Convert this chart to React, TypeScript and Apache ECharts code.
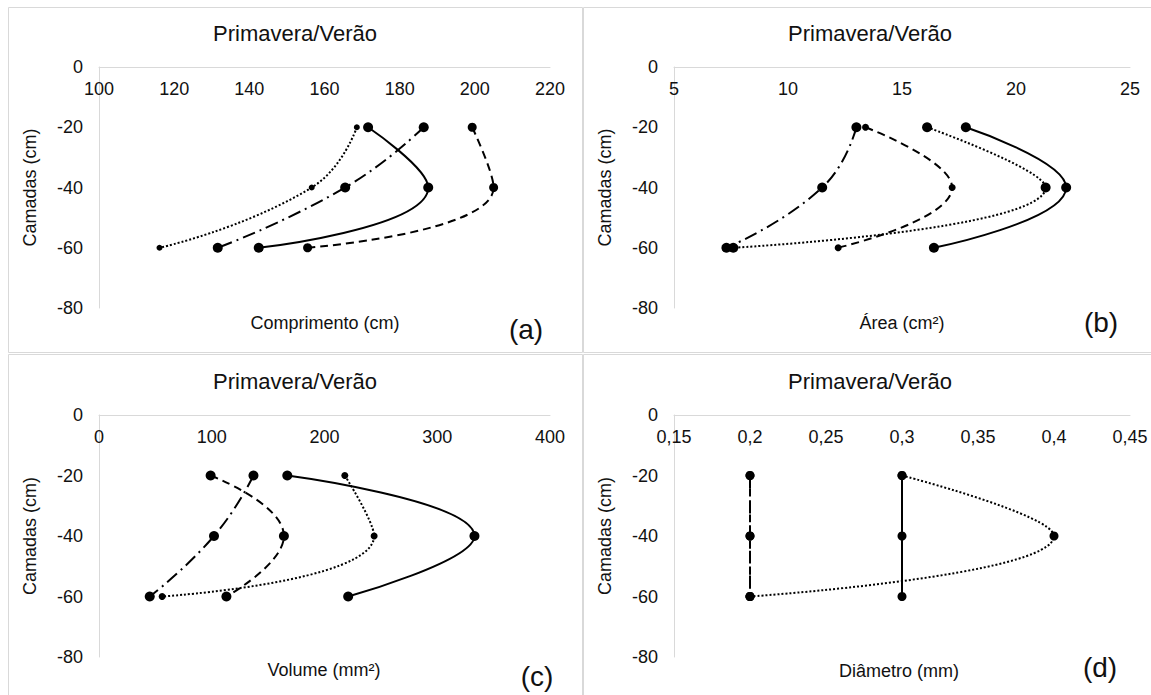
import React, { useEffect, useRef } from "react";
import * as echarts from "echarts";

// Depth layers (cm)
const layers = [-20, -40, -60];
const yTicks = [0, -20, -40, -60, -80];

// Panel (a) Comprimento (cm)
const compSolid = [171.6, 187.6, 142.5];
const compDashed = [199.3, 205.0, 155.5];
const compDashDot = [186.4, 165.5, 131.6];
const compDotted = [168.6, 156.6, 116.1];

// Panel (b) Área (cm²)
const areaSolid = [17.8, 22.2, 16.4];
const areaDashed = [13.4, 17.2, 12.2];
const areaDashDot = [13.0, 11.5, 7.3];
const areaDotted = [16.1, 21.3, 7.6];

// Panel (c) Volume (mm²)
const volSolid = [167, 333, 221];
const volDashed = [99, 164, 113];
const volDashDot = [137, 102, 45];
const volDotted = [218, 244, 56];

// Panel (d) Diâmetro (mm)
const diaSolid = [0.3, 0.3, 0.3];
const diaDashed = [0.2, 0.2, 0.2];
const diaDashDot = [0.2, 0.2, 0.2];
const diaDotted = [0.3, 0.4, 0.2];

const titleText = "Primavera/Verão";
const xNames = ["Comprimento (cm)", "Área (cm²)", "Volume (mm²)", "Diâmetro (mm)"];
const letters = ["(a)", "(b)", "(c)", "(d)"];
const yName = "Camadas (cm)";

const FONT = "'Liberation Sans', Arial, sans-serif";
const GRAY = "#d9d9d9";

const dashSolid: any = "solid";
const dashDashed: any = [8, 5];
const dashDashDot: any = [13, 5, 2, 5];
const dashDotted: any = [2, 2];

export default function App() {
  const ref = useRef<HTMLDivElement>(null);

  useEffect(() => {
    if (!ref.current) return;
    const chart = echarts.init(ref.current, undefined, { renderer: "svg" });

    const grids = [
      { left: 99, top: 67, width: 451, height: 241 },
      { left: 674, top: 67, width: 456, height: 241 },
      { left: 99, top: 415, width: 451, height: 242 },
      { left: 674, top: 415, width: 456, height: 242 },
    ];
    const xRanges = [
      { min: 100, max: 220, interval: 20 },
      { min: 5, max: 25, interval: 5 },
      { min: 0, max: 400, interval: 100 },
      { min: 0.15, max: 0.45, interval: 0.05 },
    ];

    const xAxis = xRanges.map((r, i) => ({
      type: "value",
      gridIndex: i,
      position: "top",
      min: r.min,
      max: r.max,
      interval: r.interval,
      axisLine: { show: true, onZero: false, lineStyle: { color: GRAY, width: 1 } },
      axisTick: { show: false },
      splitLine: { show: false },
      axisLabel: {
        inside: true,
        margin: 13,
        fontSize: 18,
        color: "#111",
        fontFamily: FONT,
        formatter: (v: number) =>
          i === 3 ? String(Math.round(v * 100) / 100).replace(".", ",") : String(Math.round(v)),
      },
    }));

    const yAxis = grids.map((_, i) => ({
      type: "value",
      gridIndex: i,
      min: -80,
      max: 0,
      interval: 20,
      name: yName,
      nameLocation: "middle",
      nameGap: 60,
      nameRotate: 90,
      nameTextStyle: { fontSize: 18, color: "#111", fontFamily: FONT },
      axisLine: { show: true, onZero: false, lineStyle: { color: GRAY, width: 1 } },
      axisTick: { show: false },
      splitLine: { show: false },
      axisLabel: { margin: 16, fontSize: 18, color: "#111", fontFamily: FONT },
    }));

    const mk = (idx: number, vals: number[], type: any, size: number) => ({
      type: "line",
      xAxisIndex: idx,
      yAxisIndex: idx,
      data: vals.map((v, k) => [v, layers[k]]),
      smooth: 0.5,
      symbol: "circle",
      symbolSize: size,
      itemStyle: { color: "#000" },
      lineStyle: { color: "#000", width: 2, type },
      emphasis: { disabled: true },
    });

    const series = [
      mk(0, compDotted, dashDotted, 6),
      mk(0, compDashDot, dashDashDot, 10),
      mk(0, compDashed, dashDashed, 9),
      mk(0, compSolid, dashSolid, 10),
      mk(1, areaDotted, dashDotted, 10),
      mk(1, areaDashDot, dashDashDot, 10),
      mk(1, areaDashed, dashDashed, 7),
      mk(1, areaSolid, dashSolid, 10),
      mk(2, volDotted, dashDotted, 7),
      mk(2, volDashDot, dashDashDot, 10),
      mk(2, volDashed, dashDashed, 10),
      mk(2, volSolid, dashSolid, 10),
      mk(3, diaDashed, dashDashed, 9),
      mk(3, diaDashDot, dashDashDot, 9),
      mk(3, diaDotted, dashDotted, 9),
      mk(3, diaSolid, dashSolid, 9),
    ];

    const titlePos = [
      [295, 33],
      [870, 33],
      [295, 381],
      [870, 381],
    ];
    const namePos = [
      [325, 323],
      [902, 323],
      [324, 670],
      [899, 671],
    ];
    const letterPos = [
      [526, 329],
      [1101, 322],
      [537, 676],
      [1100, 667],
    ];

    const graphic: any[] = [
      { type: "rect", shape: { x: 8.5, y: 7.5, width: 574, height: 345 }, style: { fill: "none", stroke: GRAY, lineWidth: 1 }, silent: true },
      { type: "rect", shape: { x: 583.5, y: 7.5, width: 600, height: 345 }, style: { fill: "none", stroke: GRAY, lineWidth: 1 }, silent: true },
      { type: "rect", shape: { x: 8.5, y: 354.5, width: 574, height: 400 }, style: { fill: "none", stroke: GRAY, lineWidth: 1 }, silent: true },
      { type: "rect", shape: { x: 583.5, y: 354.5, width: 600, height: 400 }, style: { fill: "none", stroke: GRAY, lineWidth: 1 }, silent: true },
    ];
    for (let i = 0; i < 4; i++) {
      graphic.push({
        type: "text",
        x: titlePos[i][0],
        y: titlePos[i][1],
        style: { text: titleText, fontSize: 22, fill: "#111", fontFamily: FONT, align: "center", verticalAlign: "middle" },
        silent: true,
      });
      graphic.push({
        type: "text",
        x: namePos[i][0],
        y: namePos[i][1],
        style: { text: xNames[i], fontSize: 18, fill: "#111", fontFamily: FONT, align: "center", verticalAlign: "middle" },
        silent: true,
      });
      graphic.push({
        type: "text",
        x: letterPos[i][0],
        y: letterPos[i][1],
        style: { text: letters[i], fontSize: 28, fill: "#111", fontFamily: FONT, align: "center", verticalAlign: "middle" },
        silent: true,
      });
    }

    chart.setOption({
      animation: false,
      backgroundColor: "#fff",
      grid: grids,
      xAxis,
      yAxis,
      series,
      graphic,
    } as any);

    return () => chart.dispose();
  }, []);

  return (
    <div
      ref={ref}
      style={{ position: "fixed", left: 0, top: 0, width: 1151, height: 695, background: "#fff" }}
    />
  );
}
